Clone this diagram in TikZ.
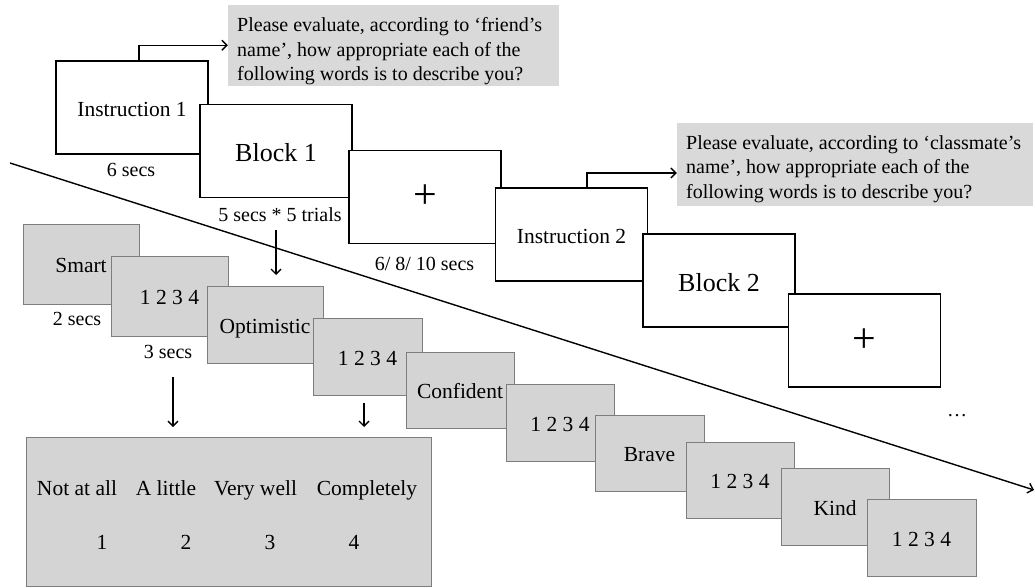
\documentclass[tikz,border=0pt]{standalone}
\usepackage{fontspec}
\setmainfont{Liberation Serif}
\usetikzlibrary{arrows.meta}
\definecolor{notegray}{RGB}{217,217,217}
\definecolor{cardgray}{RGB}{212,212,212}
\definecolor{cardedge}{RGB}{125,125,125}
\tikzset{
  slide/.style={draw=black, line width=1.8pt, fill=white, minimum width=152pt, minimum height=93pt, inner sep=0pt, text height=18.4pt, text depth=0pt, font=\fontsize{21.5}{25}\selectfont},
  bigtext/.style={text height=21.4pt, font=\fontsize{26}{30}\selectfont},
  plustext/.style={text height=23.8pt, font=\fontsize{42}{46}\selectfont},
  card/.style={draw=cardedge, line width=1pt, fill=cardgray, inner sep=0pt, text height=17.5pt, text depth=0pt, font=\fontsize{21.5}{25}\selectfont},
  notebox/.style={fill=notegray, inner sep=0pt},
  notetext/.style={inner sep=0pt, anchor=north west, align=left, font=\fontsize{20}{24.5}\selectfont},
  lbl/.style={inner sep=0pt, anchor=base, font=\fontsize{20}{24}\selectfont},
  scaletext/.style={inner sep=0pt, anchor=base, font=\fontsize{21.5}{25}\selectfont},
  arr/.style={line width=1.4pt, -{Straight Barb[length=5pt,width=10pt,line width=1.4pt]}},
}
\begin{document}
\begin{tikzpicture}[x=1pt, y=-1pt]
\useasboundingbox (0,0) rectangle (1035,588);

% instruction texts
\node[notebox, minimum width=331pt, minimum height=81.3pt] (note1) at (393.5,45.3) {};
\node[notetext] (note1text) at (237,17.3)
  {Please evaluate, according to ‘friend’s\\ name’, how appropriate each of the\\ following words is to describe you?};
\node[notebox, minimum width=356pt, minimum height=82.4pt] (note2) at (855,164.5) {};
\node[notetext] (note2text) at (686,135)
  {Please evaluate, according to ‘classmate’s\\ name’, how appropriate each of the\\ following words is to describe you?};

% block sequence
\node[slide] (instr1) at (132,107.5) {Instruction 1};
\node[slide, bigtext] (block1) at (276,151) {Block 1};
\node[slide, plustext] (fix1) at (425,197) {+};
\node[slide] (instr2) at (571.5,234.5) {Instruction 2};
\node[slide, bigtext] (block2) at (719,280.5) {Block 2};
\node[slide, plustext] (fix2) at (864.5,340.5) {+};

\draw[arr] ([xshift=7pt]instr1.north) |- (note1.west);
\draw[arr] ([xshift=15.5pt]instr2.north) |- ([yshift=-8.5pt]note2.west);

% durations
\node[lbl] (l6) at (131,176) {6 secs};
\node[lbl] (l5) at (280,221.5) {5 secs * 5 trials};
\node[lbl] (l68) at (424.5,270) {6/ 8/ 10 secs};
\node[lbl] (dots) at (957,416) {\dots};

% time axis
\coordinate (tstart) at (10,163);
\coordinate (tend) at (1034,490);
\draw[arr] (tstart) -- (tend);

% trial sequence
\node[card, minimum width=116pt, minimum height=80pt] (smart) at (81,264) {Smart};
\node[card, minimum width=117pt, minimum height=80pt] (r1) at (169.5,296) {1 2 3 4};
\node[card, minimum width=116pt, minimum height=77pt] (opt) at (265,324.5) {Optimistic};
\node[card, minimum width=109pt, minimum height=77pt] (r2) at (367.5,356.5) {1 2 3 4};
\node[card, minimum width=108pt, minimum height=76pt] (conf) at (460,390) {Confident};
\node[card, minimum width=108pt, minimum height=77pt] (r3) at (560,422.5) {1 2 3 4};
\node[card, minimum width=109pt, minimum height=76pt] (brave) at (649.5,453) {Brave};
\node[card, minimum width=108pt, minimum height=76pt] (r4) at (740,480) {1 2 3 4};
\node[card, minimum width=108pt, minimum height=77pt] (kind) at (835,506.5) {Kind};
\node[card, minimum width=109pt, minimum height=77pt] (r5) at (921.5,537.5) {1 2 3 4};

\node[lbl] (l2) at (77,325) {2 secs};
\node[lbl] (l3) at (168,358.7) {3 secs};

% rating scale
\node[draw=cardedge, line width=1pt, fill=cardgray, minimum width=405pt, minimum height=149pt] (scalebox) at (228.5,511.5) {};
\node[scaletext] (s1) at (77,495) {Not at all};
\node[scaletext] (s2) at (166,495) {A little};
\node[scaletext] (s3) at (255.5,495) {Very well};
\node[scaletext] (s4) at (367,495) {Completely};
\node[scaletext] (n1) at (102,549) {1};
\node[scaletext] (n2) at (186,549) {2};
\node[scaletext] (n3) at (270,549) {3};
\node[scaletext] (n4) at (354,549) {4};

% pointers
\coordinate (pa) at (276,230);
\coordinate (pb) at (276,275);
\draw[arr] (pa) -- (pb);
\coordinate (pc) at (173,377);
\coordinate (pd) at (173,427);
\draw[arr] (pc) -- (pd);
\coordinate (pe) at (364,403);
\coordinate (pf) at (364,427);
\draw[arr] (pe) -- (pf);
\end{tikzpicture}
\end{document}
